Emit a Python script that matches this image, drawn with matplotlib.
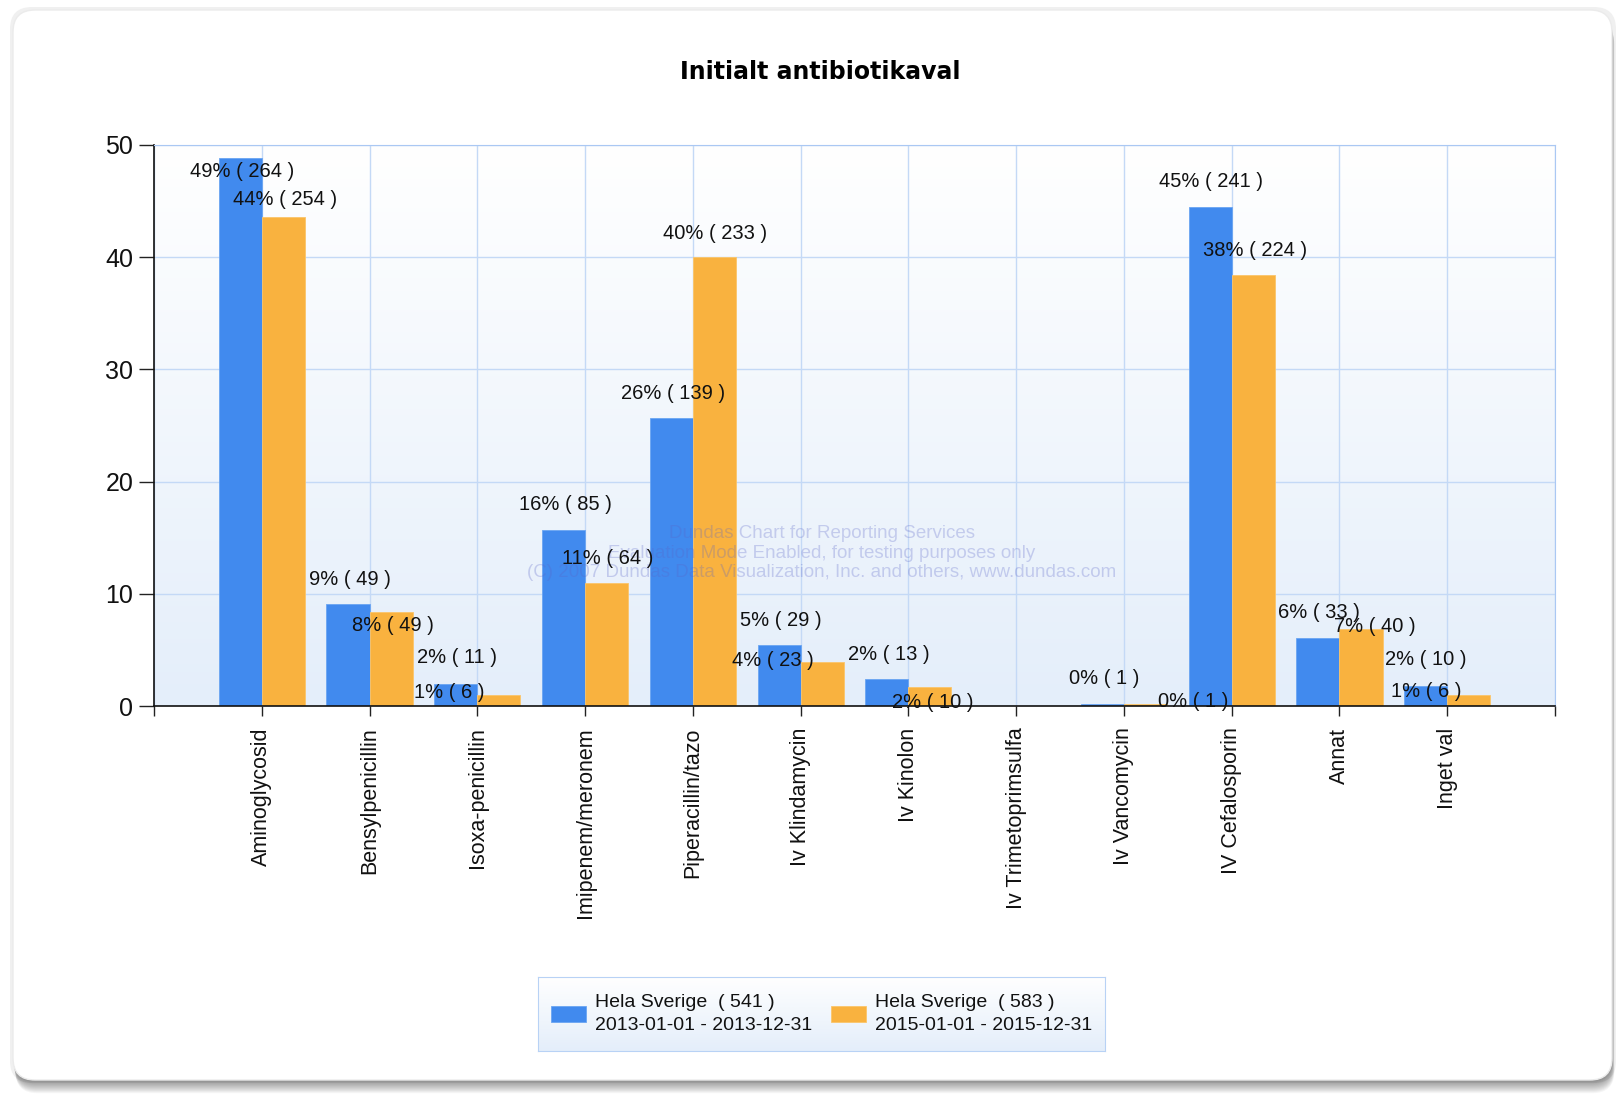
import numpy as np
import matplotlib
matplotlib.use('Agg')
import matplotlib.pyplot as plt
from matplotlib.patches import FancyBboxPatch
from matplotlib.colors import LinearSegmentedColormap

# --- data ---
categories = ['Aminoglycosid', 'Bensylpenicillin', 'Isoxa-penicillin', 'Imipenem/meronem',
              'Piperacillin/tazo', 'Iv Klindamycin', 'Iv Kinolon', 'Iv Trimetoprimsulfa',
              'Iv Vancomycin', 'IV Cefalosporin', 'Annat', 'Inget val']
pct_2013 = [48.8, 9.1, 2.0, 15.7, 25.7, 5.4, 2.4, 0.0, 0.2, 44.5, 6.1, 1.8]
pct_2015 = [43.6, 8.4, 1.0, 11.0, 40.0, 3.9, 1.7, 0.0, 0.2, 38.4, 6.9, 1.0]
n_2013 = [264, 49, 11, 85, 139, 29, 13, 0, 1, 241, 33, 10]
n_2015 = [254, 49, 6, 64, 233, 23, 10, 0, 1, 224, 40, 6]
legend_labels = ['Hela Sverige  ( 541 )\n2013-01-01 - 2013-12-31',
                 'Hela Sverige  ( 583 )\n2015-01-01 - 2015-12-31']
title = 'Initialt antibiotikaval'
watermark = ('Dundas Chart for Reporting Services\n'
             'Evaluation Mode Enabled, for testing purposes only\n'
             '(C) 2007 Dundas Data Visualization, Inc. and others, www.dundas.com')

# label nudges in pixels (dx, dy from bar top), mimicking the original collision layout
off_2013 = [(2, -13), (2, 24), (1, 26), (2, 25), (2, 24), (2, 25), (2, 25), None,
            (2, 25), (1, 25), (1, 25), (0, 26)]
off_2015 = [(2, 17), (2, -14), (-50, 2), (1, 24), (1, 24), (-49, 2), (3, -16), None,
            (48, 2), (2, 25), (14, 2), (-43, 3)]

BLUE = '#418AEE'
ORANGE = '#F9B23F'
FONT = ['Liberation Sans', 'DejaVu Sans']

W, H = 1616, 1096
fig = plt.figure(figsize=(W / 100, H / 100), dpi=100)
fig.patch.set_facecolor('white')

# background panel with rounded corners and a soft shadow
bg = fig.add_axes([0, 0, 1, 1], zorder=-10)
bg.set_xlim(0, W)
bg.set_ylim(H, 0)
bg.axis('off')
bg.add_patch(FancyBboxPatch((10, 7), 1606, 1076, boxstyle='round,pad=0,rounding_size=22',
                            fc='#f0f0f0', ec='none'))
for k in range(1, 13):
    bg.add_patch(FancyBboxPatch((13 + k * 0.2, 10 + k * 1.1), 1599, 1070,
                                boxstyle='round,pad=0,rounding_size=22',
                                fc='black', ec='none', alpha=0.04))
bg.add_patch(FancyBboxPatch((13, 10), 1599, 1070, boxstyle='round,pad=0,rounding_size=22',
                            fc='white', ec='#ebebeb', lw=1))

# main plot
ax = fig.add_axes([154 / W, 1 - 706 / H, (1555 - 154) / W, (706 - 145) / H])
ax.set_facecolor('none')
grad = LinearSegmentedColormap.from_list('bggrad', ['#e4eefa', '#ffffff'])
ax.imshow(np.linspace(0, 1, 256).reshape(-1, 1), extent=[0, 13, 0, 50], origin='lower',
          aspect='auto', cmap=grad, zorder=0)

x = np.arange(1, len(categories) + 1)
bw = 0.4
bars_a = ax.bar(x - bw / 2, pct_2013, bw, color=BLUE, edgecolor='#6aa5f2', linewidth=0.6,
                zorder=2, label=legend_labels[0])
bars_b = ax.bar(x + bw / 2, pct_2015, bw, color=ORANGE, edgecolor='#fbc56a', linewidth=0.6,
                zorder=2, label=legend_labels[1])

ax.set_xlim(0, 13)
ax.set_ylim(0, 50)
ax.set_yticks(np.arange(0, 51, 10))
ax.set_xticks(np.arange(0, 14))
ax.set_xticklabels([''] + categories + [''], rotation=90, va='top', ha='center',
                   family=FONT, fontsize=15.5, color='#111111')
ax.tick_params(axis='x', length=7.5, width=1, pad=8, color='#222222')
ax.tick_params(axis='y', length=11, width=1, pad=4, color='#222222')
for lab in ax.get_yticklabels():
    lab.set_family(FONT)
    lab.set_fontsize(18)
    lab.set_color('#111111')

ax.grid(True, color='#c4d9f6', linewidth=1, zorder=1)
for g in ax.get_xgridlines() + ax.get_ygridlines():
    g.set_zorder(1)
ax.spines['left'].set_color('#111111')
ax.spines['bottom'].set_color('#111111')
ax.spines['left'].set_linewidth(1.2)
ax.spines['bottom'].set_linewidth(1.2)
ax.spines['top'].set_color('#aac8f3')
ax.spines['right'].set_color('#aac8f3')

# watermark
ax.text(822 / W, 1 - 553 / H, watermark, transform=fig.transFigure, ha='center', va='center',
        family=FONT, fontsize=13.5, color='#5a64c8', alpha=0.28, linespacing=1.2, zorder=3)

# value labels
for i in range(len(categories)):
    for pcts, counts, offs, total in ((pct_2013, n_2013, off_2013, 541),
                                      (pct_2015, n_2015, off_2015, 583)):
        if counts[i] == 0:
            continue
        xpos = x[i] - bw / 2 if total == 541 else x[i] + bw / 2
        dx, dy = offs[i]
        txt = f'{round(counts[i] / total * 100):.0f}% ( {counts[i]} )'
        ax.annotate(txt, (xpos, pcts[i]), xytext=(dx, dy), textcoords='offset pixels',
                    ha='center', va='center', family=FONT, fontsize=14.5,
                    color='#111111', zorder=4, annotation_clip=False)

# title
fig.text(820 / W, 1 - 72 / H, title, ha='center', va='center', family='DejaVu Sans',
         fontweight='bold', fontsize=17, color='#000000')

# legend box
lax = fig.add_axes([538 / W, 1 - 1051 / H, (1105 - 538) / W, (1051 - 977) / H])
lax.imshow(np.linspace(0, 1, 256).reshape(-1, 1), extent=[0, 1, 0, 1], origin='lower',
           aspect='auto', cmap=grad, zorder=0)
lax.set_xlim(0, 1)
lax.set_ylim(0, 1)
lax.set_xticks([])
lax.set_yticks([])
for s in lax.spines.values():
    s.set_color('#b8d2f5')
leg = lax.legend(handles=[bars_a, bars_b], labels=legend_labels, ncol=2, loc='center',
                 frameon=False, prop={'family': FONT, 'size': 14},
                 handlelength=1.8, handleheight=0.85, handletextpad=0.45,
                 columnspacing=1.0)
for t in leg.get_texts():
    t.set_linespacing(1.45)
    t.set_color('#111111')

fig.savefig('out.png', dpi=100)
